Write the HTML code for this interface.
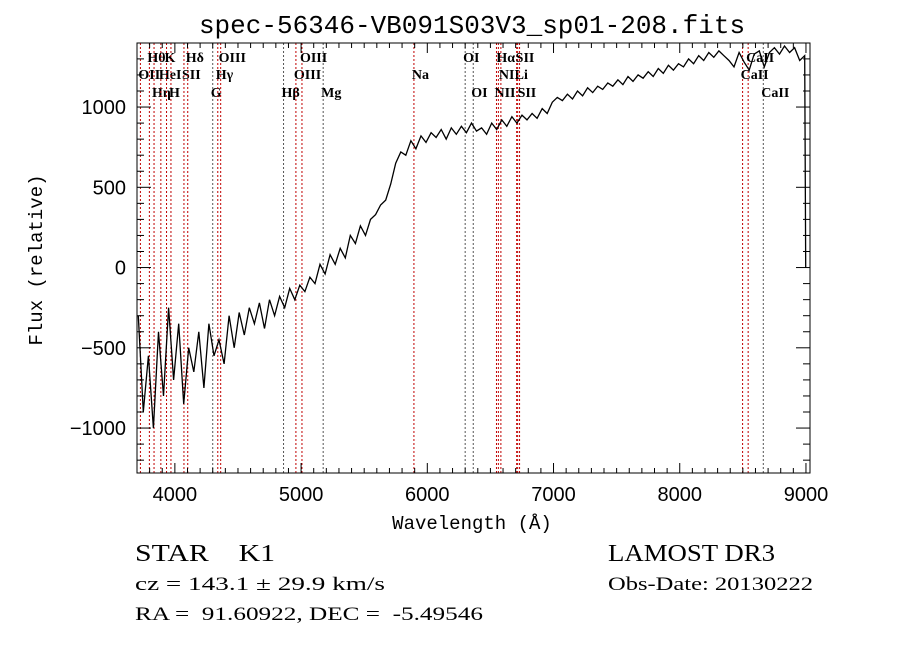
<!DOCTYPE html>
<html><head><meta charset="utf-8">
<style>
html,body{margin:0;padding:0;background:#fff;}
svg{display:block;}
</style></head>
<body>
<svg id="chart" width="900" height="649" xmlns="http://www.w3.org/2000/svg">
<rect width="900" height="649" fill="#fff"/>
<text x="472" y="33" text-anchor="middle" font-family="Liberation Mono, monospace" font-size="26">spec-56346-VB091S03V3_sp01-208.fits</text>
<g id="lines"></g>
<g id="spec"></g>
<g id="axes"></g>
<text x="472" y="529" text-anchor="middle" font-family="Liberation Mono, monospace" font-size="19">Wavelength (Å)</text>
<text transform="translate(42,260) rotate(-90)" text-anchor="middle" font-family="Liberation Mono, monospace" font-size="19">Flux (relative)</text>
<g font-family="Liberation Serif, serif">
<text x="135" y="561" font-size="24" textLength="140" lengthAdjust="spacingAndGlyphs" xml:space="preserve">STAR    K1</text>
<text x="608" y="561" font-size="24" textLength="167" lengthAdjust="spacingAndGlyphs">LAMOST DR3</text>
<text x="135" y="590" font-size="19" textLength="250" lengthAdjust="spacingAndGlyphs">cz = 143.1 ± 29.9 km/s</text>
<text x="608" y="590" font-size="19" textLength="205" lengthAdjust="spacingAndGlyphs">Obs-Date: 20130222</text>
<text x="135" y="620" font-size="19" textLength="348" lengthAdjust="spacingAndGlyphs" xml:space="preserve">RA =  91.60922, DEC =  -5.49546</text>
</g>
</svg>
<script>
const xTicks = [4000,5000,6000,7000,8000,9000];
const yTicks = [-1000,-500,0,500,1000];
const wlStart = 3710, wlStep = 40;
const flux = [-300,-900,-550,-1000,-400,-800,-250,-700,-350,-850,-500,-650,-400,-750,-350,-550,-450,-600,-300,-500,
-280,-420,-250,-350,-220,-380,-200,-300,-180,-250,-130,-200,-110,-150,-60,-100,20,-40,80,20,
120,60,200,150,260,200,300,330,390,420,520,650,720,700,790,740,820,780,840,810,
860,800,870,830,880,840,900,850,870,830,900,860,920,880,940,900,950,920,960,930,
990,960,1030,1060,1040,1080,1050,1100,1070,1120,1090,1130,1110,1150,1130,1170,1140,1190,1160,1200,
1180,1220,1190,1240,1210,1260,1230,1270,1250,1300,1270,1320,1290,1340,1310,1350,1320,1290,1250,1340,
1280,1230,1330,1350,1250,1340,1370,1330,1380,1340,1370,1290,1320,0];
const lineWl = [3727,3798,3835,3889,3934,3969,4072,4102,4300,4340,4363,4861,4959,5007,5175,5894,6300,6364,6548,6563,6583,6708,6716,6731,8498,8542,8662];
const lineLbl = ["OII","Hθ","Hη","HeI","K","H","SII","Hδ","G","Hγ","OIII","Hβ","OIII","OIII","Mg","Na","OI","OI","NII","Hα","NII","Li","SII","SII","CaII","CaII","CaII"];
const lineRow = [2,1,3,2,1,3,2,1,3,2,1,3,2,1,3,2,1,3,3,1,2,2,1,3,2,1,3];
const lineDark = [0,0,0,0,0,0,0,0,1,0,0,1,0,0,1,0,1,1,0,0,0,0,0,0,0,0,1];

const L=137,R=810,T=43,B=473, X0=3700,X1=9032, Y0=-1280,Y1=1399;
const sx=v=>L+(v-X0)/(X1-X0)*(R-L);
const sy=v=>B-(v-Y0)/(Y1-Y0)*(B-T);
const NS='http://www.w3.org/2000/svg';
function mk(tag,attrs,parent){const e=document.createElementNS(NS,tag);for(const k in attrs)e.setAttribute(k,attrs[k]);parent.appendChild(e);return e;}

const lg=document.getElementById('lines');
const rowY=[0,62,79,97];
lineWl.forEach((w,i)=>{
  const x=sx(w);
  const ln=mk('line',{x1:x,x2:x,y1:T,y2:B,stroke:lineDark[i]?'#555':'#c00000','stroke-width':1,'stroke-dasharray':'2,2'},lg);
  
  
  const t=mk('text',{x:x-2,y:rowY[lineRow[i]],'font-family':'Liberation Serif, serif','font-size':14,'font-weight':'bold'},lg);
  t.textContent=lineLbl[i];
  
  
});

const sg=document.getElementById('spec');
let d='';
flux.forEach((f,i)=>{let w=wlStart+wlStep*i; if(i===flux.length-1) w=wlStart+wlStep*(i-1)+8; d+=(i?'L':'M')+sx(w).toFixed(1)+','+sy(f).toFixed(1);});
const p=mk('path',{d:d,fill:'none',stroke:'#000','stroke-width':1.3},sg);



const ag=document.getElementById('axes');
const box=mk('rect',{x:L,y:T,width:R-L,height:B-T,fill:'none',stroke:'#000','stroke-width':1},ag);


for(let w=3800;w<=9000;w+=100){
  const x=sx(w), major=w%1000===0, len=major?10:5;
  mk('line',{x1:x,x2:x,y1:B,y2:B-len,stroke:'#000'},ag);
  mk('line',{x1:x,x2:x,y1:T,y2:T+len,stroke:'#000'},ag);
}
xTicks.forEach(v=>{
  const t=mk('text',{x:sx(v),y:B+28,'text-anchor':'middle','font-family':'Liberation Sans, sans-serif','font-size':20},ag);
  t.textContent=v;
  
  
});
for(let v=-1200;v<=1300;v+=100){
  const y=sy(v), major=v%500===0, len=major?14:7;
  mk('line',{x1:L,x2:L+len,y1:y,y2:y,stroke:'#000'},ag);
  mk('line',{x1:R,x2:R-len,y1:y,y2:y,stroke:'#000'},ag);
}
yTicks.forEach(v=>{
  const t=mk('text',{x:L-11,y:sy(v)+7,'text-anchor':'end','font-family':'Liberation Sans, sans-serif','font-size':20},ag);
  t.textContent=v===0?'0':(v<0?'−'+Math.abs(v):v);
  
  
});
</script>
</body></html>
